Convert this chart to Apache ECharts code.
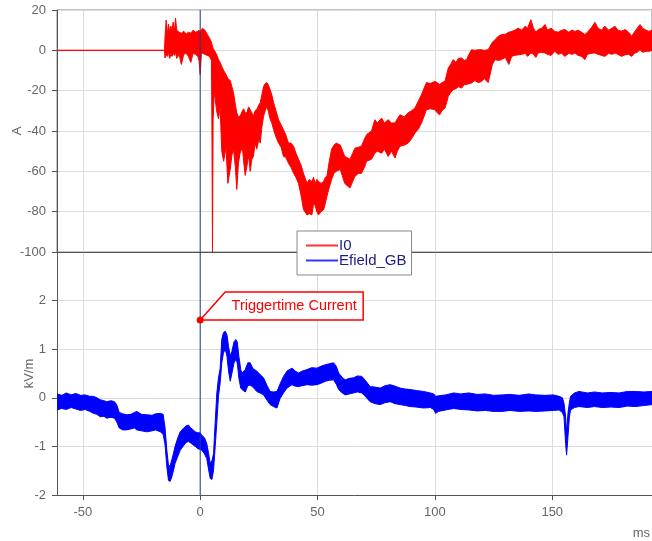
<!DOCTYPE html>
<html><head><meta charset="utf-8">
<script src="https://cdn.jsdelivr.net/npm/echarts@6/dist/echarts.min.js"></script>
<style>html,body{margin:0;padding:0;background:#fff}#c{width:652px;height:541px}</style>
</head><body><div id="c"></div>
<script>
// ---- I0 current (A): time (ms), upper and lower envelope of the noisy trace
const i0Time = [-61,-15.2,-15,-14.5,-14,-13.5,-13,-12.5,-12,-11.5,-11,-10.5,-10,-9,-8,-7,-6,-5,-4,-3,-2,-1,-0.5,0,0.5,1,2,3,4,4.8,5.0,5.25,5.5,6,7,7.8,8.5,9.2,10,11,11.8,12.8,13.5,14.2,15,15.6,16.3,17,18,18.5,19.2,19.9,20.6,21.3,22,22.7,23.4,24.1,25,25.6,26.3,27,27.7,28.4,29,29.8,30.5,31.3,32.3,33.4,34.5,35.5,36.5,37.6,38.7,39.8,40.8,41.9,43,44,45.5,46.5,47.6,48.3,49,49.7,50.4,51.5,52.6,53.3,54,55,56,57,58,59.7,61.6,63.8,65,65.9,67.5,68.7,70,70.9,73,74.4,75.5,77.3,78.5,80.1,81.5,83,84,85.1,87,88.6,90,91.5,93,94.3,95.3,96.4,98,100,101,102,103,104.3,105,105.7,106.7,107.8,109,110,111.4,112.5,113.5,114.5,115.6,117,118.5,119.9,121,122.7,123.5,124.5,125.6,127,128.4,130,131.5,132.7,134,135.5,137,138.5,139.5,140.9,142,143,144,145.5,146.9,148,149.5,151.1,152.5,154,155.4,157,158.5,159.7,161,162.5,163.9,165,166.5,168.2,169.5,171,172.4,174,175.5,176.7,178,179.5,181,182.5,183.8,185,186.2,187.4,188.5,190,191.2,192.5];
const i0Upper = [0,0,6,15,8,13,9,12,10,14,9,16,10,9,8.5,9.5,8,9,8.5,10,9,9.5,10,9,10,11,10,8,6,4,3,2,1,0,-2,-4.6,-6,-8,-10,-12,-14,-15,-18,-21,-27,-31,-33,-32.7,-30,-29,-31,-31,-28,-29.4,-31,-32.7,-30,-29.4,-27,-26,-22,-17.9,-16.5,-16,-17,-19.5,-22,-26,-30,-34.4,-37,-39.4,-42,-46,-46,-47.6,-51,-54,-57,-61,-66,-64,-65,-63,-66,-64,-65,-66,-65,-63,-62.5,-55,-49,-47,-46,-47,-52.6,-54,-51,-48.5,-48,-47.6,-44,-41.8,-40,-34.4,-36,-33.6,-36,-34.4,-36,-36,-34,-32,-33,-31,-30,-28.6,-25,-22,-19,-16,-16.5,-15.4,-16,-17,-16,-15.4,-12,-8.8,-7,-4.6,-6,-4,-3.8,-5,-4.6,-2,0.3,0,0.3,0.3,0,0.3,2,4,5.3,7,7.8,8,9,9.4,10,11,10,12,11,15.2,11,9,10.3,11,12.8,10,11,9.4,9,10,10.3,9,10,9.4,10,9,7.8,9,11,13.9,11,10,12,10,11,12,10,9.5,10.3,9,7,9,11,12.8,11,10,9.4,10];
const i0Lower = [0,0,-3.8,-2,-3,-1,-4,-2,-3,-1.5,-2.5,-1,-4,-2,-7,-2,-1.5,-3,-6,-1.5,-2,-3,-5,-12,-2,-1.5,-2,-2.5,-3,-5,-37,-100,-35,-20,-30,-34,-28,-50,-55,-48,-66,-59,-52,-49,-58,-69,-56,-51,-48,-55,-62,-57.6,-52,-60,-54,-52.6,-46,-49,-44,-46,-38,-32.7,-30,-27.8,-30,-34,-36,-39.4,-43,-46,-48,-52.6,-53,-56,-58,-61,-63,-66,-72,-79,-81.6,-81,-81.6,-76,-77,-80,-81.6,-80,-79,-76,-72.4,-68,-64,-61,-60,-59,-66,-68.3,-65,-62.5,-61,-61,-58,-55,-54,-51,-50,-51,-49,-52.6,-50,-53.4,-50,-47.6,-47,-46,-44,-41,-39,-36,-33,-29.4,-29,-29.4,-31,-32,-30,-28.6,-26,-22.8,-21,-19.5,-19,-18,-18.7,-17,-17,-16.5,-16.2,-15,-16,-15.4,-14,-16,-12,-7,-4.6,-5,-4.6,-3.5,-7,-3,-2.5,-2.2,-2,-1.5,-3,-1.3,-2,-3.5,-1.3,-1,-1.3,-2,-2.5,-0.5,-2,-1.5,-3,-1.5,-2,-1.3,-2.5,-3,-4.6,-2,-1.5,-1.3,-2,-2.5,-3,-1.5,-2,-1.3,-2,-3,-2.2,-2,-3,-1.5,-1,0.3,-1,-0.5,-0.5,0];

// ---- Efield_GB (kV/m): time (ms), upper and lower envelope
const efTime = [-61,-59,-57,-55,-53,-51,-49,-47,-45.5,-44,-42.6,-41,-39.8,-38,-36.5,-35.5,-34.5,-33,-31.3,-29.5,-28,-27,-25,-22.7,-20.5,-19,-17,-15.8,-15,-14.2,-13.5,-12.8,-12.1,-11.4,-10.7,-9.5,-8.5,-7,-6,-5,-4,-3,-2.1,-1,0,0.7,1.8,2.8,3.6,4.3,5,5.7,6.4,7.1,7.8,8.5,9.2,9.9,10.7,11.4,12.1,12.8,13.5,14.4,15.2,15.8,16.5,17.3,17.8,19.2,20.3,21.3,22.5,24.1,25.5,27,28.5,29.8,31.2,32.7,34,35.5,37,39.1,40.5,41.9,43.5,45.5,47.5,49.7,51.5,53.3,55,56.8,58,59,60.5,61.8,63.5,65.3,67,68.9,70.5,72.4,74.5,76.7,78.8,81,83,85.2,87.5,89.5,92,95.2,98,99.5,100.3,101.5,104.6,108,111,114.5,118,121.5,125,128.7,132,136,140,143,147,150.5,152.9,154.3,155,155.7,156.1,156.7,157.3,157.8,159.5,161.4,165,168,171.3,175,178.5,182,185.5,189,192.5];
const efUpper = [0.08,0.05,0.1,0.06,0.09,0.05,0.06,0.03,0.03,0,-0.04,-0.06,-0.08,-0.06,-0.08,-0.15,-0.3,-0.33,-0.35,-0.34,-0.3,-0.28,-0.34,-0.35,-0.36,-0.33,-0.32,-0.34,-0.6,-1.08,-1.39,-1.4,-1.28,-1.15,-1.0,-0.82,-0.7,-0.62,-0.58,-0.56,-0.62,-0.66,-0.7,-0.72,-0.72,-0.77,-0.82,-0.94,-1.15,-1.35,-1.3,-1.15,-0.5,0.1,0.41,0.6,1.2,1.34,1.37,1.3,1.05,0.86,0.95,1.15,1.2,1.15,0.85,0.58,0.51,0.58,0.72,0.72,0.6,0.55,0.48,0.41,0.25,0.13,0.12,0.13,0.28,0.44,0.55,0.61,0.55,0.51,0.55,0.58,0.62,0.61,0.65,0.68,0.7,0.72,0.65,0.51,0.42,0.37,0.4,0.41,0.45,0.44,0.35,0.23,0.22,0.2,0.25,0.27,0.24,0.2,0.18,0.17,0.15,0.13,0.1,0.08,0.03,0.04,0.06,0.1,0.08,0.1,0.07,0.08,0.05,0.06,0.07,0.05,0.08,0.06,0.05,0.06,0.03,0,-0.11,-0.39,-0.72,-0.32,-0.1,0.03,0.1,0.13,0.1,0.12,0.1,0.11,0.1,0.13,0.13,0.12,0.13];
const efLower = [-0.25,-0.22,-0.24,-0.2,-0.23,-0.26,-0.24,-0.28,-0.32,-0.34,-0.39,-0.38,-0.42,-0.4,-0.42,-0.5,-0.62,-0.66,-0.66,-0.64,-0.62,-0.66,-0.68,-0.7,-0.68,-0.66,-0.7,-0.75,-0.95,-1.42,-1.7,-1.72,-1.63,-1.5,-1.35,-1.2,-1.08,-0.98,-0.92,-0.9,-0.93,-0.97,-1.0,-1.05,-1.06,-1.08,-1.15,-1.25,-1.48,-1.66,-1.68,-1.49,-1.0,-0.5,0.03,0.3,0.72,0.92,1.0,0.86,0.55,0.34,0.5,0.72,0.79,0.72,0.4,0.2,0.17,0.12,0.25,0.26,0.22,0.13,0.1,0.06,-0.05,-0.14,-0.18,-0.21,-0.02,0.1,0.2,0.27,0.24,0.23,0.25,0.27,0.26,0.27,0.3,0.34,0.36,0.37,0.28,0.17,0.1,0.06,0.08,0.1,0.12,0.1,0.02,-0.08,-0.12,-0.14,-0.1,-0.08,-0.12,-0.14,-0.16,-0.18,-0.19,-0.21,-0.2,-0.24,-0.32,-0.28,-0.25,-0.22,-0.24,-0.25,-0.27,-0.26,-0.28,-0.28,-0.26,-0.28,-0.27,-0.28,-0.27,-0.26,-0.25,-0.3,-0.39,-0.94,-1.18,-0.8,-0.4,-0.25,-0.2,-0.18,-0.2,-0.18,-0.2,-0.19,-0.2,-0.17,-0.18,-0.16,-0.14];

// ---- axes / annotation values
const xRange = [-61, 192.5];
const topRange = [-100, 20];
const bottomRange = [-2, 3];
const triggerTime = 0;
const triggerValue = 1.6;
const triggerLabel = 'Triggertime Current';
const legendNames = ['I0', 'Efield_GB'];

const FONT = 'Arial, "Liberation Sans", sans-serif';
const AXC = '#555', LBC = '#666', GRC = '#dcdcdc';

function band(name, idx, time, up, lo, color) {
  return {
    type: 'custom', name: name, xAxisIndex: idx, yAxisIndex: idx, clip: true, silent: true, z: 2,
    data: [[time[0], up[0]]],
    renderItem: function (params, api) {
      const pts = [];
      for (let i = 0; i < time.length; i++) pts.push(api.coord([time[i], up[i]]));
      for (let i = time.length - 1; i >= 0; i--) pts.push(api.coord([time[i], lo[i]]));
      return { type: 'polygon', shape: { points: pts }, style: { fill: color, stroke: color, lineWidth: 1 } };
    }
  };
}

function xAx(idx, labels) {
  return {
    type: 'value', gridIndex: idx, min: xRange[0], max: xRange[1], position: 'bottom',
    axisLine: { show: true, onZero: false, lineStyle: { color: AXC, width: 1 } },
    axisTick: { show: labels, length: 5, lineStyle: { color: AXC } },
    axisLabel: { show: labels, color: LBC, fontSize: 13, fontFamily: FONT, margin: 11, showMinLabel: false, showMaxLabel: false },
    splitLine: { show: true, lineStyle: { color: GRC, width: 1 } }
  };
}
function yAx(idx, range, iv, name, gap) {
  return {
    type: 'value', gridIndex: idx, min: range[0], max: range[1], interval: iv, position: 'left',
    name: name, nameLocation: 'middle', nameGap: gap, nameMoveOverlap: false,
    nameTextStyle: { color: LBC, fontSize: 13, fontFamily: FONT },
    axisLine: { show: true, onZero: false, lineStyle: { color: AXC, width: 1 } },
    axisTick: { show: true, length: 5, lineStyle: { color: AXC } },
    axisLabel: { color: LBC, fontSize: 13, fontFamily: FONT, margin: 11, showMaxLabel: idx === 0 },
    splitLine: { show: true, lineStyle: { color: GRC, width: 1 } }
  };
}

const chart = echarts.init(document.getElementById('c'), null, { renderer: 'canvas' });
chart.setOption({
  animation: false,
  backgroundColor: '#fff',
  grid: [
    { left: 57, right: 0, top: 10, height: 242, show: true, borderColor: '#888', borderWidth: 1, containLabel: false, outerBoundsMode: 'none' },
    { left: 57, right: 0, top: 252, height: 243, containLabel: false, outerBoundsMode: 'none' }
  ],
  xAxis: [xAx(0, false), xAx(1, true)],
  yAxis: [yAx(0, topRange, 20, 'A', 33), yAx(1, bottomRange, 1, 'kV/m', 21)],
  legend: {
    data: legendNames, orient: 'vertical', left: 297, top: 231,
    padding: [7, 5, 7, 8], itemWidth: 32, itemHeight: 14, itemGap: 0,
    backgroundColor: '#fff', borderColor: '#888', borderWidth: 1, selectedMode: false,
    itemStyle: { opacity: 0 },
    textStyle: { color: '#1c1c80', fontSize: 15, fontFamily: FONT, lineHeight: 14, padding: [0, 0, 0, -4] }
  },
  graphic: [{ type: 'text', right: 2, top: 527, style: { text: 'ms', fill: LBC, fontSize: 13, fontFamily: FONT } }],
  series: [
    { type: 'line', name: legendNames[0], xAxisIndex: 0, yAxisIndex: 0, data: [], symbol: 'none', showSymbol: false, lineStyle: { color: '#ff3333', width: 1 }, itemStyle: { color: '#ff0000' } },
    { type: 'line', name: legendNames[1], xAxisIndex: 1, yAxisIndex: 1, data: [], symbol: 'none', showSymbol: false, lineStyle: { color: '#3333ff', width: 1 }, itemStyle: { color: '#0000ff' } },
    band('I0 band', 0, i0Time, i0Upper, i0Lower, '#ff0000'),
    band('Efield band', 1, efTime, efUpper, efLower, '#0000ff'),
    { type: 'line', name: 'trigger top', xAxisIndex: 0, yAxisIndex: 0, silent: true, z: 5, symbol: 'none',
      data: [[triggerTime, topRange[0]], [triggerTime, topRange[1]]], lineStyle: { color: '#1b3f80', width: 1 } },
    { type: 'line', name: 'trigger bottom', xAxisIndex: 1, yAxisIndex: 1, silent: true, z: 5, symbol: 'none',
      data: [[triggerTime, bottomRange[0]], [triggerTime, bottomRange[1]]], lineStyle: { color: '#1b3f80', width: 1 } },
    { type: 'custom', name: 'annotation', xAxisIndex: 1, yAxisIndex: 1, silent: true, z: 10, clip: false,
      data: [[triggerTime, triggerValue]],
      renderItem: function (params, api) {
        const p = api.coord([api.value(0), api.value(1)]);
        const x = p[0], y = p[1];
        return { type: 'group', children: [
          { type: 'polygon', shape: { points: [[x, y], [x + 25, y - 28], [x + 163, y - 28], [x + 163, y]] },
            style: { fill: '#fff', stroke: '#ff0000', lineWidth: 1.5 } },
          { type: 'text', style: { text: triggerLabel, x: x + 94, y: y - 14.5, align: 'center', verticalAlign: 'middle',
            fill: '#ff0000', fontSize: 14.5, fontFamily: FONT } },
          { type: 'circle', shape: { cx: x, cy: y, r: 3.5 }, style: { fill: '#ff0000' } }
        ] };
      }
    }
  ]
});
</script></body></html>
